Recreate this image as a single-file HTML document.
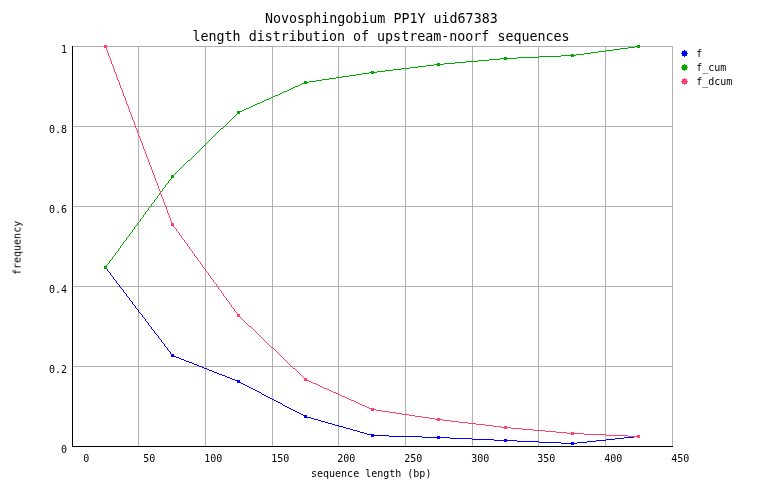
<!DOCTYPE html>
<html><head><meta charset="utf-8"><title>length distribution</title>
<style>
html,body{margin:0;padding:0;background:#fff;}
body{width:762px;height:498px;overflow:hidden;}
svg{display:block;}
text{font-family:"DejaVu Sans Mono","Liberation Mono",monospace;fill:#000;}
.t{font-size:13.33px;}
.s{font-size:10px;}
</style></head><body>
<svg width="762" height="498" viewBox="0 0 762 498">
<rect width="762" height="498" fill="#fff"/>
<g shape-rendering="crispEdges">
<rect x="138" y="46" width="1" height="401" fill="#b0b0b0"/>
<rect x="205" y="46" width="1" height="401" fill="#b0b0b0"/>
<rect x="272" y="46" width="1" height="401" fill="#b0b0b0"/>
<rect x="338" y="46" width="1" height="401" fill="#b0b0b0"/>
<rect x="405" y="46" width="1" height="401" fill="#b0b0b0"/>
<rect x="472" y="46" width="1" height="401" fill="#b0b0b0"/>
<rect x="538" y="46" width="1" height="401" fill="#b0b0b0"/>
<rect x="605" y="46" width="1" height="401" fill="#b0b0b0"/>
<rect x="672" y="46" width="1" height="401" fill="#b0b0b0"/>
<rect x="72" y="46" width="601" height="1" fill="#b0b0b0"/>
<rect x="72" y="126" width="601" height="1" fill="#b0b0b0"/>
<rect x="72" y="206" width="601" height="1" fill="#b0b0b0"/>
<rect x="72" y="286" width="601" height="1" fill="#b0b0b0"/>
<rect x="72" y="366" width="601" height="1" fill="#b0b0b0"/>
<rect x="72" y="46" width="1" height="401" fill="#000"/>
<rect x="72" y="446" width="601" height="1" fill="#000"/>
<path fill="#0000ff" d="M104 266h3v1h-3zM104 267h3v1h-3zM104 268h3v1h-3zM107 269h1v1h-1zM107 270h1v1h-1zM108 271h1v1h-1zM109 272h1v1h-1zM110 273h1v1h-1zM110 274h1v1h-1zM111 275h1v1h-1zM112 276h1v1h-1zM113 277h1v1h-1zM113 278h1v1h-1zM114 279h1v1h-1zM115 280h1v1h-1zM116 281h1v1h-1zM116 282h1v1h-1zM117 283h1v1h-1zM118 284h1v1h-1zM119 285h1v1h-1zM119 286h1v1h-1zM120 287h1v1h-1zM121 288h1v1h-1zM122 289h1v1h-1zM123 290h1v1h-1zM123 291h1v1h-1zM124 292h1v1h-1zM125 293h1v1h-1zM126 294h1v1h-1zM126 295h1v1h-1zM127 296h1v1h-1zM128 297h1v1h-1zM129 298h1v1h-1zM129 299h1v1h-1zM130 300h1v1h-1zM131 301h1v1h-1zM132 302h1v1h-1zM132 303h1v1h-1zM133 304h1v1h-1zM134 305h1v1h-1zM135 306h1v1h-1zM135 307h1v1h-1zM136 308h1v1h-1zM137 309h1v1h-1zM138 310h1v1h-1zM138 311h1v1h-1zM139 312h1v1h-1zM140 313h1v1h-1zM141 314h1v1h-1zM142 315h1v1h-1zM142 316h1v1h-1zM143 317h1v1h-1zM144 318h1v1h-1zM145 319h1v1h-1zM145 320h1v1h-1zM146 321h1v1h-1zM147 322h1v1h-1zM148 323h1v1h-1zM148 324h1v1h-1zM149 325h1v1h-1zM150 326h1v1h-1zM151 327h1v1h-1zM151 328h1v1h-1zM152 329h1v1h-1zM153 330h1v1h-1zM154 331h1v1h-1zM154 332h1v1h-1zM155 333h1v1h-1zM156 334h1v1h-1zM157 335h1v1h-1zM158 336h1v1h-1zM158 337h1v1h-1zM159 338h1v1h-1zM160 339h1v1h-1zM161 340h1v1h-1zM161 341h1v1h-1zM162 342h1v1h-1zM163 343h1v1h-1zM164 344h1v1h-1zM164 345h1v1h-1zM165 346h1v1h-1zM166 347h1v1h-1zM167 348h1v1h-1zM167 349h1v1h-1zM168 350h1v1h-1zM169 351h1v1h-1zM170 352h1v1h-1zM170 353h1v1h-1zM171 354h3v1h-3zM171 355h3v1h-3zM171 356h5v1h-5zM176 357h3v1h-3zM179 358h2v1h-2zM181 359h3v1h-3zM184 360h2v1h-2zM186 361h3v1h-3zM189 362h3v1h-3zM192 363h2v1h-2zM194 364h3v1h-3zM197 365h2v1h-2zM199 366h3v1h-3zM202 367h2v1h-2zM204 368h3v1h-3zM207 369h2v1h-2zM209 370h3v1h-3zM212 371h2v1h-2zM214 372h3v1h-3zM217 373h2v1h-2zM219 374h3v1h-3zM222 375h3v1h-3zM225 376h2v1h-2zM227 377h3v1h-3zM230 378h2v1h-2zM232 379h3v1h-3zM235 380h5v1h-5zM237 381h3v1h-3zM237 382h4v1h-4zM241 383h2v1h-2zM243 384h2v1h-2zM245 385h2v1h-2zM247 386h2v1h-2zM249 387h2v1h-2zM251 388h2v1h-2zM253 389h2v1h-2zM255 390h2v1h-2zM257 391h2v1h-2zM259 392h2v1h-2zM261 393h1v1h-1zM262 394h2v1h-2zM264 395h2v1h-2zM266 396h2v1h-2zM268 397h2v1h-2zM270 398h2v1h-2zM272 399h2v1h-2zM274 400h2v1h-2zM276 401h2v1h-2zM278 402h2v1h-2zM280 403h2v1h-2zM282 404h1v1h-1zM283 405h2v1h-2zM285 406h2v1h-2zM287 407h2v1h-2zM289 408h2v1h-2zM291 409h2v1h-2zM293 410h2v1h-2zM295 411h2v1h-2zM297 412h2v1h-2zM299 413h2v1h-2zM301 414h2v1h-2zM303 415h4v1h-4zM304 416h3v1h-3zM304 417h7v1h-7zM311 418h3v1h-3zM314 419h4v1h-4zM318 420h3v1h-3zM321 421h4v1h-4zM325 422h3v1h-3zM328 423h4v1h-4zM332 424h3v1h-3zM335 425h4v1h-4zM339 426h4v1h-4zM343 427h3v1h-3zM346 428h4v1h-4zM350 429h3v1h-3zM353 430h4v1h-4zM357 431h3v1h-3zM360 432h4v1h-4zM364 433h3v1h-3zM367 434h7v1h-7zM371 435h18v1h-18zM637 435h3v1h-3zM371 436h3v1h-3zM389 436h33v1h-33zM437 436h3v1h-3zM634 436h6v1h-6zM422 437h28v1h-28zM624 437h10v1h-10zM637 437h3v1h-3zM437 438h3v1h-3zM450 438h22v1h-22zM615 438h9v1h-9zM472 439h22v1h-22zM504 439h3v1h-3zM606 439h9v1h-9zM494 440h23v1h-23zM596 440h10v1h-10zM504 441h3v1h-3zM517 441h22v1h-22zM587 441h9v1h-9zM539 442h22v1h-22zM571 442h3v1h-3zM577 442h10v1h-10zM561 443h16v1h-16zM571 444h3v1h-3z"/>
<path fill="#00a800" d="M637 45h3v1h-3zM635 46h5v1h-5zM628 47h7v1h-7zM637 47h3v1h-3zM620 48h8v1h-8zM613 49h7v1h-7zM606 50h7v1h-7zM598 51h8v1h-8zM591 52h7v1h-7zM584 53h7v1h-7zM571 54h3v1h-3zM576 54h8v1h-8zM561 55h15v1h-15zM539 56h22v1h-22zM571 56h3v1h-3zM504 57h3v1h-3zM517 57h22v1h-22zM500 58h17v1h-17zM489 59h11v1h-11zM504 59h3v1h-3zM478 60h11v1h-11zM466 61h12v1h-12zM455 62h11v1h-11zM437 63h3v1h-3zM444 63h11v1h-11zM434 64h10v1h-10zM426 65h8v1h-8zM437 65h3v1h-3zM418 66h8v1h-8zM410 67h8v1h-8zM401 68h9v1h-9zM393 69h8v1h-8zM385 70h8v1h-8zM371 71h3v1h-3zM377 71h8v1h-8zM369 72h8v1h-8zM362 73h7v1h-7zM371 73h3v1h-3zM356 74h6v1h-6zM349 75h7v1h-7zM342 76h7v1h-7zM336 77h6v1h-6zM329 78h7v1h-7zM322 79h7v1h-7zM316 80h6v1h-6zM304 81h3v1h-3zM309 81h7v1h-7zM304 82h5v1h-5zM302 83h5v1h-5zM300 84h2v1h-2zM298 85h2v1h-2zM295 86h3v1h-3zM293 87h2v1h-2zM291 88h2v1h-2zM289 89h2v1h-2zM287 90h2v1h-2zM284 91h3v1h-3zM282 92h2v1h-2zM280 93h2v1h-2zM278 94h2v1h-2zM275 95h3v1h-3zM273 96h2v1h-2zM271 97h2v1h-2zM269 98h2v1h-2zM266 99h3v1h-3zM264 100h2v1h-2zM262 101h2v1h-2zM260 102h2v1h-2zM257 103h3v1h-3zM255 104h2v1h-2zM253 105h2v1h-2zM251 106h2v1h-2zM249 107h2v1h-2zM246 108h3v1h-3zM244 109h2v1h-2zM242 110h2v1h-2zM237 111h5v1h-5zM237 112h3v1h-3zM237 113h3v1h-3zM236 114h1v1h-1zM235 115h1v1h-1zM234 116h1v1h-1zM233 117h1v1h-1zM232 118h1v1h-1zM231 119h1v1h-1zM230 120h1v1h-1zM229 121h1v1h-1zM228 122h1v1h-1zM227 123h1v1h-1zM226 124h1v1h-1zM225 125h1v1h-1zM224 126h1v1h-1zM223 127h1v1h-1zM221 128h2v1h-2zM220 129h1v1h-1zM219 130h1v1h-1zM218 131h1v1h-1zM217 132h1v1h-1zM216 133h1v1h-1zM215 134h1v1h-1zM214 135h1v1h-1zM213 136h1v1h-1zM212 137h1v1h-1zM211 138h1v1h-1zM210 139h1v1h-1zM209 140h1v1h-1zM208 141h1v1h-1zM207 142h1v1h-1zM206 143h1v1h-1zM205 144h1v1h-1zM204 145h1v1h-1zM203 146h1v1h-1zM202 147h1v1h-1zM201 148h1v1h-1zM200 149h1v1h-1zM199 150h1v1h-1zM198 151h1v1h-1zM197 152h1v1h-1zM196 153h1v1h-1zM195 154h1v1h-1zM194 155h1v1h-1zM193 156h1v1h-1zM192 157h1v1h-1zM191 158h1v1h-1zM190 159h1v1h-1zM188 160h2v1h-2zM187 161h1v1h-1zM186 162h1v1h-1zM185 163h1v1h-1zM184 164h1v1h-1zM183 165h1v1h-1zM182 166h1v1h-1zM181 167h1v1h-1zM180 168h1v1h-1zM179 169h1v1h-1zM178 170h1v1h-1zM177 171h1v1h-1zM176 172h1v1h-1zM175 173h1v1h-1zM174 174h1v1h-1zM171 175h3v1h-3zM171 176h3v1h-3zM171 177h3v1h-3zM171 178h1v1h-1zM170 179h1v1h-1zM169 180h1v1h-1zM168 181h1v1h-1zM168 182h1v1h-1zM167 183h1v1h-1zM166 184h1v1h-1zM165 185h1v1h-1zM165 186h1v1h-1zM164 187h1v1h-1zM163 188h1v1h-1zM162 189h1v1h-1zM162 190h1v1h-1zM161 191h1v1h-1zM160 192h1v1h-1zM159 193h1v1h-1zM159 194h1v1h-1zM158 195h1v1h-1zM157 196h1v1h-1zM157 197h1v1h-1zM156 198h1v1h-1zM155 199h1v1h-1zM154 200h1v1h-1zM154 201h1v1h-1zM153 202h1v1h-1zM152 203h1v1h-1zM151 204h1v1h-1zM151 205h1v1h-1zM150 206h1v1h-1zM149 207h1v1h-1zM148 208h1v1h-1zM148 209h1v1h-1zM147 210h1v1h-1zM146 211h1v1h-1zM145 212h1v1h-1zM145 213h1v1h-1zM144 214h1v1h-1zM143 215h1v1h-1zM143 216h1v1h-1zM142 217h1v1h-1zM141 218h1v1h-1zM140 219h1v1h-1zM140 220h1v1h-1zM139 221h1v1h-1zM138 222h1v1h-1zM137 223h1v1h-1zM137 224h1v1h-1zM136 225h1v1h-1zM135 226h1v1h-1zM134 227h1v1h-1zM134 228h1v1h-1zM133 229h1v1h-1zM132 230h1v1h-1zM132 231h1v1h-1zM131 232h1v1h-1zM130 233h1v1h-1zM129 234h1v1h-1zM129 235h1v1h-1zM128 236h1v1h-1zM127 237h1v1h-1zM126 238h1v1h-1zM126 239h1v1h-1zM125 240h1v1h-1zM124 241h1v1h-1zM123 242h1v1h-1zM123 243h1v1h-1zM122 244h1v1h-1zM121 245h1v1h-1zM120 246h1v1h-1zM120 247h1v1h-1zM119 248h1v1h-1zM118 249h1v1h-1zM118 250h1v1h-1zM117 251h1v1h-1zM116 252h1v1h-1zM115 253h1v1h-1zM115 254h1v1h-1zM114 255h1v1h-1zM113 256h1v1h-1zM112 257h1v1h-1zM112 258h1v1h-1zM111 259h1v1h-1zM110 260h1v1h-1zM109 261h1v1h-1zM109 262h1v1h-1zM108 263h1v1h-1zM107 264h1v1h-1zM106 265h1v1h-1zM104 266h3v1h-3zM104 267h3v1h-3zM104 268h3v1h-3z"/>
<path fill="#ff4070" d="M104 45h3v1h-3zM104 46h3v1h-3zM104 47h3v1h-3zM106 48h1v1h-1zM106 49h1v1h-1zM107 50h1v1h-1zM107 51h1v1h-1zM107 52h1v1h-1zM108 53h1v1h-1zM108 54h1v1h-1zM108 55h1v1h-1zM109 56h1v1h-1zM109 57h1v1h-1zM110 58h1v1h-1zM110 59h1v1h-1zM110 60h1v1h-1zM111 61h1v1h-1zM111 62h1v1h-1zM111 63h1v1h-1zM112 64h1v1h-1zM112 65h1v1h-1zM113 66h1v1h-1zM113 67h1v1h-1zM113 68h1v1h-1zM114 69h1v1h-1zM114 70h1v1h-1zM114 71h1v1h-1zM115 72h1v1h-1zM115 73h1v1h-1zM116 74h1v1h-1zM116 75h1v1h-1zM116 76h1v1h-1zM117 77h1v1h-1zM117 78h1v1h-1zM117 79h1v1h-1zM118 80h1v1h-1zM118 81h1v1h-1zM119 82h1v1h-1zM119 83h1v1h-1zM119 84h1v1h-1zM120 85h1v1h-1zM120 86h1v1h-1zM120 87h1v1h-1zM121 88h1v1h-1zM121 89h1v1h-1zM122 90h1v1h-1zM122 91h1v1h-1zM122 92h1v1h-1zM123 93h1v1h-1zM123 94h1v1h-1zM123 95h1v1h-1zM124 96h1v1h-1zM124 97h1v1h-1zM125 98h1v1h-1zM125 99h1v1h-1zM125 100h1v1h-1zM126 101h1v1h-1zM126 102h1v1h-1zM126 103h1v1h-1zM127 104h1v1h-1zM127 105h1v1h-1zM128 106h1v1h-1zM128 107h1v1h-1zM128 108h1v1h-1zM129 109h1v1h-1zM129 110h1v1h-1zM129 111h1v1h-1zM130 112h1v1h-1zM130 113h1v1h-1zM131 114h1v1h-1zM131 115h1v1h-1zM131 116h1v1h-1zM132 117h1v1h-1zM132 118h1v1h-1zM132 119h1v1h-1zM133 120h1v1h-1zM133 121h1v1h-1zM134 122h1v1h-1zM134 123h1v1h-1zM134 124h1v1h-1zM135 125h1v1h-1zM135 126h1v1h-1zM135 127h1v1h-1zM136 128h1v1h-1zM136 129h1v1h-1zM137 130h1v1h-1zM137 131h1v1h-1zM137 132h1v1h-1zM138 133h1v1h-1zM138 134h1v1h-1zM138 135h1v1h-1zM139 136h1v1h-1zM139 137h1v1h-1zM140 138h1v1h-1zM140 139h1v1h-1zM140 140h1v1h-1zM141 141h1v1h-1zM141 142h1v1h-1zM142 143h1v1h-1zM142 144h1v1h-1zM142 145h1v1h-1zM143 146h1v1h-1zM143 147h1v1h-1zM143 148h1v1h-1zM144 149h1v1h-1zM144 150h1v1h-1zM145 151h1v1h-1zM145 152h1v1h-1zM145 153h1v1h-1zM146 154h1v1h-1zM146 155h1v1h-1zM146 156h1v1h-1zM147 157h1v1h-1zM147 158h1v1h-1zM148 159h1v1h-1zM148 160h1v1h-1zM148 161h1v1h-1zM149 162h1v1h-1zM149 163h1v1h-1zM149 164h1v1h-1zM150 165h1v1h-1zM150 166h1v1h-1zM151 167h1v1h-1zM151 168h1v1h-1zM151 169h1v1h-1zM152 170h1v1h-1zM152 171h1v1h-1zM152 172h1v1h-1zM153 173h1v1h-1zM153 174h1v1h-1zM154 175h1v1h-1zM154 176h1v1h-1zM154 177h1v1h-1zM155 178h1v1h-1zM155 179h1v1h-1zM155 180h1v1h-1zM156 181h1v1h-1zM156 182h1v1h-1zM157 183h1v1h-1zM157 184h1v1h-1zM157 185h1v1h-1zM158 186h1v1h-1zM158 187h1v1h-1zM158 188h1v1h-1zM159 189h1v1h-1zM159 190h1v1h-1zM160 191h1v1h-1zM160 192h1v1h-1zM160 193h1v1h-1zM161 194h1v1h-1zM161 195h1v1h-1zM161 196h1v1h-1zM162 197h1v1h-1zM162 198h1v1h-1zM163 199h1v1h-1zM163 200h1v1h-1zM163 201h1v1h-1zM164 202h1v1h-1zM164 203h1v1h-1zM164 204h1v1h-1zM165 205h1v1h-1zM165 206h1v1h-1zM166 207h1v1h-1zM166 208h1v1h-1zM166 209h1v1h-1zM167 210h1v1h-1zM167 211h1v1h-1zM167 212h1v1h-1zM168 213h1v1h-1zM168 214h1v1h-1zM169 215h1v1h-1zM169 216h1v1h-1zM169 217h1v1h-1zM170 218h1v1h-1zM170 219h1v1h-1zM170 220h1v1h-1zM171 221h1v1h-1zM171 222h1v1h-1zM171 223h3v1h-3zM171 224h3v1h-3zM171 225h3v1h-3zM173 226h1v1h-1zM174 227h1v1h-1zM175 228h1v1h-1zM176 229h1v1h-1zM176 230h1v1h-1zM177 231h1v1h-1zM178 232h1v1h-1zM179 233h1v1h-1zM179 234h1v1h-1zM180 235h1v1h-1zM181 236h1v1h-1zM181 237h1v1h-1zM182 238h1v1h-1zM183 239h1v1h-1zM184 240h1v1h-1zM184 241h1v1h-1zM185 242h1v1h-1zM186 243h1v1h-1zM187 244h1v1h-1zM187 245h1v1h-1zM188 246h1v1h-1zM189 247h1v1h-1zM189 248h1v1h-1zM190 249h1v1h-1zM191 250h1v1h-1zM192 251h1v1h-1zM192 252h1v1h-1zM193 253h1v1h-1zM194 254h1v1h-1zM194 255h1v1h-1zM195 256h1v1h-1zM196 257h1v1h-1zM197 258h1v1h-1zM197 259h1v1h-1zM198 260h1v1h-1zM199 261h1v1h-1zM200 262h1v1h-1zM200 263h1v1h-1zM201 264h1v1h-1zM202 265h1v1h-1zM202 266h1v1h-1zM203 267h1v1h-1zM204 268h1v1h-1zM205 269h1v1h-1zM205 270h1v1h-1zM206 271h1v1h-1zM207 272h1v1h-1zM208 273h1v1h-1zM208 274h1v1h-1zM209 275h1v1h-1zM210 276h1v1h-1zM210 277h1v1h-1zM211 278h1v1h-1zM212 279h1v1h-1zM213 280h1v1h-1zM213 281h1v1h-1zM214 282h1v1h-1zM215 283h1v1h-1zM216 284h1v1h-1zM216 285h1v1h-1zM217 286h1v1h-1zM218 287h1v1h-1zM218 288h1v1h-1zM219 289h1v1h-1zM220 290h1v1h-1zM221 291h1v1h-1zM221 292h1v1h-1zM222 293h1v1h-1zM223 294h1v1h-1zM223 295h1v1h-1zM224 296h1v1h-1zM225 297h1v1h-1zM226 298h1v1h-1zM226 299h1v1h-1zM227 300h1v1h-1zM228 301h1v1h-1zM229 302h1v1h-1zM229 303h1v1h-1zM230 304h1v1h-1zM231 305h1v1h-1zM231 306h1v1h-1zM232 307h1v1h-1zM233 308h1v1h-1zM234 309h1v1h-1zM234 310h1v1h-1zM235 311h1v1h-1zM236 312h1v1h-1zM237 313h1v1h-1zM237 314h3v1h-3zM237 315h3v1h-3zM237 316h3v1h-3zM240 317h1v1h-1zM241 318h1v1h-1zM242 319h1v1h-1zM243 320h1v1h-1zM244 321h1v1h-1zM245 322h1v1h-1zM246 323h1v1h-1zM247 324h1v1h-1zM248 325h1v1h-1zM249 326h2v1h-2zM251 327h1v1h-1zM252 328h1v1h-1zM253 329h1v1h-1zM254 330h1v1h-1zM255 331h1v1h-1zM256 332h1v1h-1zM257 333h1v1h-1zM258 334h1v1h-1zM259 335h1v1h-1zM260 336h1v1h-1zM261 337h1v1h-1zM262 338h1v1h-1zM263 339h1v1h-1zM264 340h1v1h-1zM265 341h1v1h-1zM266 342h1v1h-1zM267 343h1v1h-1zM268 344h1v1h-1zM269 345h1v1h-1zM270 346h1v1h-1zM271 347h2v1h-2zM273 348h1v1h-1zM274 349h1v1h-1zM275 350h1v1h-1zM276 351h1v1h-1zM277 352h1v1h-1zM278 353h1v1h-1zM279 354h1v1h-1zM280 355h1v1h-1zM281 356h1v1h-1zM282 357h1v1h-1zM283 358h1v1h-1zM284 359h1v1h-1zM285 360h1v1h-1zM286 361h1v1h-1zM287 362h1v1h-1zM288 363h1v1h-1zM289 364h1v1h-1zM290 365h1v1h-1zM291 366h1v1h-1zM292 367h1v1h-1zM293 368h2v1h-2zM295 369h1v1h-1zM296 370h1v1h-1zM297 371h1v1h-1zM298 372h1v1h-1zM299 373h1v1h-1zM300 374h1v1h-1zM301 375h1v1h-1zM302 376h1v1h-1zM303 377h1v1h-1zM304 378h3v1h-3zM304 379h3v1h-3zM304 380h5v1h-5zM309 381h2v1h-2zM311 382h2v1h-2zM313 383h3v1h-3zM316 384h2v1h-2zM318 385h2v1h-2zM320 386h2v1h-2zM322 387h2v1h-2zM324 388h3v1h-3zM327 389h2v1h-2zM329 390h2v1h-2zM331 391h2v1h-2zM333 392h3v1h-3zM336 393h2v1h-2zM338 394h2v1h-2zM340 395h2v1h-2zM342 396h3v1h-3zM345 397h2v1h-2zM347 398h2v1h-2zM349 399h2v1h-2zM351 400h3v1h-3zM354 401h2v1h-2zM356 402h2v1h-2zM358 403h2v1h-2zM360 404h2v1h-2zM362 405h3v1h-3zM365 406h2v1h-2zM367 407h2v1h-2zM369 408h5v1h-5zM371 409h5v1h-5zM371 410h3v1h-3zM376 410h6v1h-6zM382 411h7v1h-7zM389 412h7v1h-7zM396 413h6v1h-6zM402 414h7v1h-7zM409 415h6v1h-6zM415 416h7v1h-7zM422 417h7v1h-7zM429 418h6v1h-6zM437 418h3v1h-3zM435 419h8v1h-8zM437 420h3v1h-3zM443 420h8v1h-8zM451 421h8v1h-8zM459 422h9v1h-9zM468 423h8v1h-8zM476 424h9v1h-9zM485 425h8v1h-8zM493 426h8v1h-8zM504 426h3v1h-3zM501 427h10v1h-10zM504 428h3v1h-3zM511 428h11v1h-11zM522 429h11v1h-11zM533 430h12v1h-12zM545 431h11v1h-11zM556 432h11v1h-11zM571 432h3v1h-3zM567 433h17v1h-17zM571 434h3v1h-3zM584 434h22v1h-22zM606 435h22v1h-22zM637 435h3v1h-3zM628 436h12v1h-12zM637 437h3v1h-3z"/>
<path fill="#0000ff" d="M684 50h1v1h2v2h1v1h-1v2h-2v1h-1v-1h-2v-2h-1v-1h1v-2h2z"/>
<path fill="#00a800" d="M684 64h1v1h2v2h1v1h-1v2h-2v1h-1v-1h-2v-2h-1v-1h1v-2h2z"/>
<path fill="#ff4070" d="M684 78h1v1h2v2h1v1h-1v2h-2v1h-1v-1h-2v-2h-1v-1h1v-2h2z"/>
</g>
<g opacity="0.999">
<text class="t" x="265" y="23">Novosphingobium PP1Y uid67383</text>
<text class="t" x="192.5" y="41">length distribution of upstream-noorf sequences</text>
<text class="s" x="67" y="52.8" text-anchor="end">1</text>
<text class="s" x="67" y="132.8" text-anchor="end">0.8</text>
<text class="s" x="67" y="212.8" text-anchor="end">0.6</text>
<text class="s" x="67" y="292.8" text-anchor="end">0.4</text>
<text class="s" x="67" y="372.8" text-anchor="end">0.2</text>
<text class="s" x="67" y="452.8" text-anchor="end">0</text>
<text class="s" x="89.4" y="461.8" text-anchor="end">0</text>
<text class="s" x="155.4" y="461.8" text-anchor="end">50</text>
<text class="s" x="222.4" y="461.8" text-anchor="end">100</text>
<text class="s" x="289.4" y="461.8" text-anchor="end">150</text>
<text class="s" x="355.4" y="461.8" text-anchor="end">200</text>
<text class="s" x="422.4" y="461.8" text-anchor="end">250</text>
<text class="s" x="489.4" y="461.8" text-anchor="end">300</text>
<text class="s" x="555.4" y="461.8" text-anchor="end">350</text>
<text class="s" x="622.4" y="461.8" text-anchor="end">400</text>
<text class="s" x="689.4" y="461.8" text-anchor="end">450</text>
<text class="s" x="311" y="477">sequence length (bp)</text>
<text class="s" transform="translate(20.6,275) rotate(-90)">frequency</text>
<text class="s" x="696.2" y="56.6">f</text>
<text class="s" x="696.2" y="70.6">f_cum</text>
<text class="s" x="696.2" y="84.6">f_dcum</text>
</g>
</svg>
</body></html>
